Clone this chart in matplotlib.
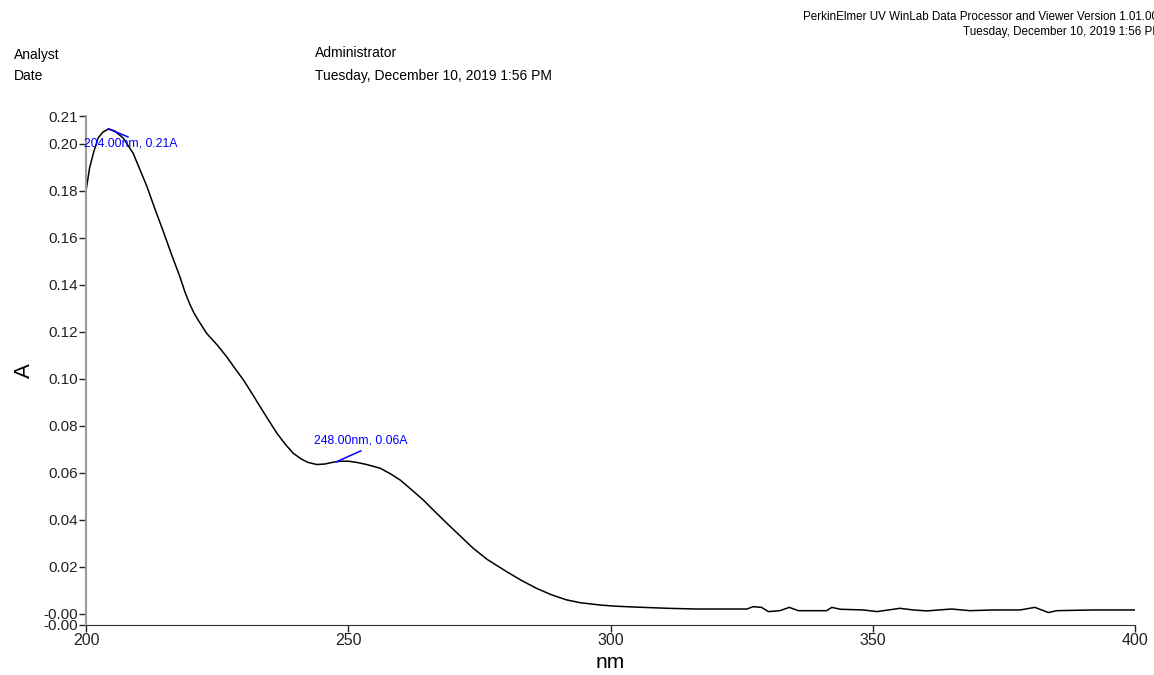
import numpy as np
import matplotlib.pyplot as plt

# spectrum
wavelength = [200.0, 200.7, 201.4, 202.3, 203.2, 204.3, 205.5, 207.1, 209.0, 210.3,
              211.6, 213.2, 214.7, 216.3, 217.9, 218.9, 219.8, 220.6, 221.4, 223.0, 225.0, 226.8,
              228.4, 230.0, 231.6, 233.2, 234.8, 236.4, 238.0, 239.5, 241.0, 242.3,
              244.0, 245.5, 247.2, 248.5, 250.0, 251.6, 253.5, 256.1, 258.0, 259.9,
              262.0, 264.3, 266.5, 268.8, 271.2, 273.8, 276.5, 280.2, 283.0, 285.9,
              288.7, 291.6, 294.2, 298.0, 301.0, 305.0, 311.0, 316.4, 321.0, 326.0,
              327.2, 328.8, 330.1, 332.3, 334.1, 335.8, 338.7, 341.2, 342.2, 343.8,
              348.2, 350.8, 355.2, 357.7, 360.3, 365.0, 368.5, 373.0, 378.1, 380.9,
              383.5, 385.1, 392.1, 400.0]
absorbance = [0.180, 0.190, 0.196, 0.2025, 0.205, 0.2064, 0.2055, 0.2025, 0.196, 0.189,
              0.182, 0.172, 0.163, 0.153, 0.1435, 0.1368, 0.1318, 0.1280, 0.125, 0.1194, 0.1145, 0.1095,
              0.1045, 0.0996, 0.094, 0.0882, 0.0825, 0.0769, 0.0722, 0.0684, 0.066, 0.0645,
              0.0636, 0.0638, 0.0646, 0.0650, 0.0650, 0.0645, 0.0636, 0.062, 0.0597, 0.057,
              0.053, 0.0485, 0.0436, 0.0386, 0.0335, 0.028, 0.0232, 0.018, 0.0143, 0.0109,
              0.0082, 0.006, 0.0048, 0.0038, 0.0033, 0.0029, 0.0024, 0.0021, 0.0021, 0.0021,
              0.0031, 0.0028, 0.0010, 0.0014, 0.0028, 0.0014, 0.0014, 0.0014, 0.0028, 0.0020,
              0.0017, 0.0010, 0.0024, 0.0017, 0.0013, 0.0021, 0.0014, 0.0017, 0.0017, 0.0028,
              0.0006, 0.0014, 0.0017, 0.0017]

# peak labels: (peak nm, peak A, label end nm, label end A, text)
peaks = [
    (204.3, 0.2064, 208.0, 0.2030, '204.00nm, 0.21A'),
    (247.7, 0.0647, 252.4, 0.0694, '248.00nm, 0.06A'),
]

y_min, y_max = -0.0047, 0.2119
y_ticks = [y_min, 0.0, 0.02, 0.04, 0.06, 0.08, 0.10, 0.12, 0.14, 0.16, 0.18, 0.20, y_max]
y_tick_labels = ['-0.00', '-0.00', '0.02', '0.04', '0.06', '0.08', '0.10', '0.12',
                 '0.14', '0.16', '0.18', '0.20', '0.21']
x_ticks = [200, 250, 300, 350, 400]

FONT = ['Liberation Sans Narrow', 'Liberation Sans', 'DejaVu Sans']
plt.rcParams['font.family'] = ['Liberation Sans', 'DejaVu Sans']

fig = plt.figure(figsize=(11.54, 6.75), dpi=100)
ax = fig.add_axes([86 / 1154, 1 - 625 / 675, (1135 - 86) / 1154, (625 - 116) / 675])

ax.plot(wavelength, absorbance, color='black', lw=1.1)

for px, py, lx, ly, txt in peaks:
    ax.plot([lx, px], [ly, py], color='blue', lw=1.1)

ax.text(199.6, 0.2000, peaks[0][4], color='blue', fontsize=8.8,
        ha='left', va='center', family=FONT, clip_on=False)
ax.text(252.4, 0.0737, peaks[1][4], color='blue', fontsize=8.8,
        ha='center', va='center', family=FONT, clip_on=False)

ax.set_xlim(200, 400)
ax.set_ylim(y_min, y_max)
ax.set_xticks(x_ticks)
ax.set_yticks(y_ticks)
ax.set_yticklabels(y_tick_labels)

for side in ['top', 'right']:
    ax.spines[side].set_visible(False)
ax.spines['left'].set_color('#999999')
ax.spines['left'].set_linewidth(1.5)
ax.spines['bottom'].set_color('#333333')
ax.tick_params(axis='both', direction='out', length=5, width=1, labelsize=11.5,
               colors='#222222', pad=1)
ax.tick_params(axis='y', labelsize=11)

ax.set_xlabel('nm', fontsize=15, labelpad=3)
ax.set_ylabel('A', fontsize=16, labelpad=6)

# header texts
fig.text(14 / 1154, 1 - 55 / 675, 'Analyst', fontsize=10, va='center', family=FONT)
fig.text(14 / 1154, 1 - 76 / 675, 'Date', fontsize=10, va='center', family=FONT)
fig.text(315 / 1154, 1 - 53 / 675, 'Administrator', fontsize=10, va='center', family=FONT)
fig.text(315 / 1154, 1 - 76 / 675, 'Tuesday, December 10, 2019 1:56 PM', fontsize=10,
         va='center', family=FONT)
fig.text(803 / 1154, 1 - 17 / 675,
         'PerkinElmer UV WinLab Data Processor and Viewer Version 1.01.00',
         fontsize=8.4, va='center', family=FONT)
fig.text(963 / 1154, 1 - 32 / 675, 'Tuesday, December 10, 2019 1:56 PM',
         fontsize=8.4, va='center', family=FONT)

fig.savefig('out.png', dpi=100)
